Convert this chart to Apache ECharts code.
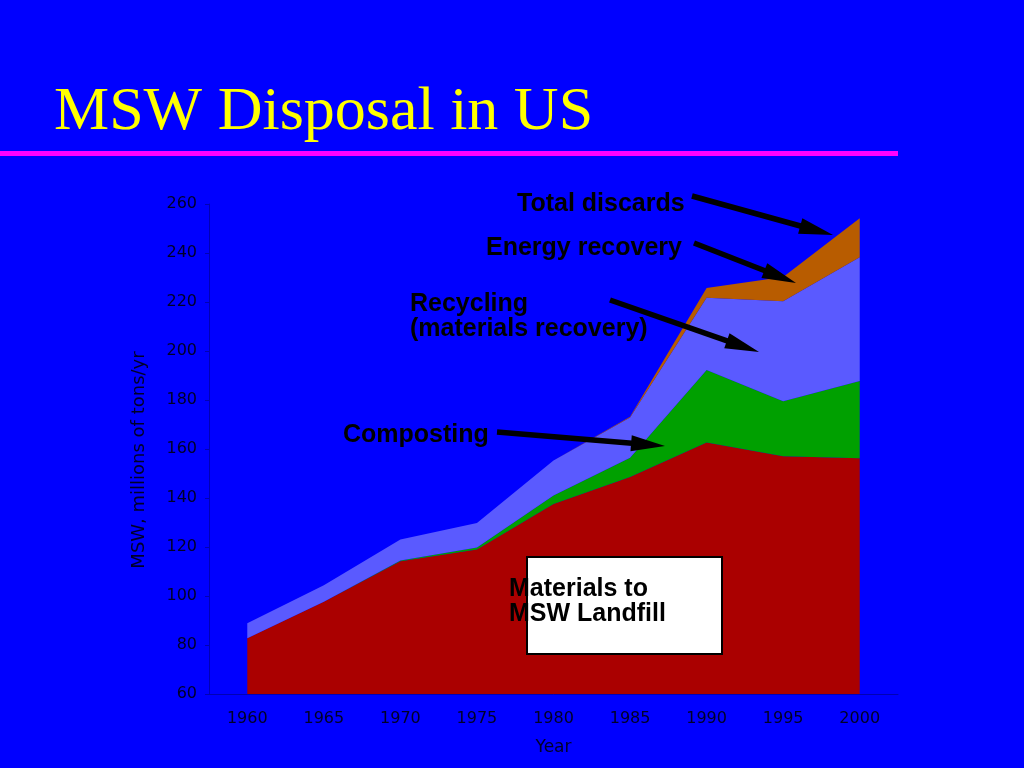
<!DOCTYPE html>
<html>
<head>
<meta charset="utf-8">
<script src="https://cdn.jsdelivr.net/npm/echarts@6/dist/echarts.min.js"></script>
<style>
  html, body { margin: 0; padding: 0; background: #0000ff; }
  #chart { width: 1024px; height: 768px; }
</style>
</head>
<body>
<div id="chart"></div>
<script>
// ---- data (millions of tons/yr) ----
var years = ['1960', '1965', '1970', '1975', '1980', '1985', '1990', '1995', '2000'];
var landfill   = [82.8, 97.7, 114.2, 119.0, 137.6, 148.6, 162.7, 157.0, 156.2];
var composting = [0, 0, 0.3, 0.8, 3.4, 7.8, 29.5, 22.5, 31.6];
var recycling  = [6.1, 6.7, 8.6, 10.0, 14.3, 16.5, 29.5, 40.8, 50.5];
var energy     = [0, 0, 0, 0, 0, 0.3, 4.0, 9.9, 15.9];
var yTicks = { min: 60, max: 260, interval: 20 };

var chart = echarts.init(document.getElementById('chart'));

var labelFont = 'Liberation Sans';
var axisColor = '#000028';
var annoStyle = { fontFamily: labelFont, fontWeight: 'bold', fontSize: 25, fill: '#000000' };

function txt(text, x, y, extra) {
  var st = Object.assign({ text: text, x: x, y: y, verticalAlign: 'middle', align: 'left' }, annoStyle, extra || {});
  return { type: 'text', z: 110, style: st, silent: true };
}
function arrow(x1, y1, x2, y2) {
  var dx = x2 - x1, dy = y2 - y1, L = Math.sqrt(dx * dx + dy * dy);
  var ux = dx / L, uy = dy / L, px = -uy, py = ux;
  var hl = 34, hw = 8;
  var bx = x2 - ux * hl, by = y2 - uy * hl;
  return [
    { type: 'line', z: 105, silent: true,
      shape: { x1: x1, y1: y1, x2: bx + ux * 4, y2: by + uy * 4 },
      style: { stroke: '#000000', lineWidth: 5.5 } },
    { type: 'polygon', z: 106, silent: true,
      shape: { points: [[x2, y2], [bx + px * hw, by + py * hw], [bx - px * hw, by - py * hw]] },
      style: { fill: '#000000' } }
  ];
}

var graphics = [
  { type: 'text', z: 100, silent: true,
    style: { text: 'MSW Disposal in US', x: 54, y: 113, verticalAlign: 'middle',
             fontFamily: 'Liberation Serif', fontSize: 62, fill: '#ffff00' } },
  { type: 'rect', z: 100, silent: true, shape: { x: 0, y: 151, width: 898, height: 5 },
    style: { fill: '#ff00ff' } },
  { type: 'text', z: 100, silent: true, rotation: Math.PI / 2,
    x: 139, y: 460,
    style: { text: 'MSW, millions of tons/yr', x: 0, y: 0, align: 'center', verticalAlign: 'middle',
             fontFamily: 'DejaVu Sans', fontSize: 18, fill: axisColor } },
  txt('Total discards', 517, 204),
  txt('Energy recovery', 486, 248),
  txt('Recycling', 410, 304),
  txt('(materials recovery)', 410, 329),
  txt('Composting', 343, 435),
  { type: 'rect', z: 100, silent: true, shape: { x: 527, y: 557, width: 195, height: 97 },
    style: { fill: '#ffffff', stroke: '#000000', lineWidth: 2 } },
  txt('Materials to', 509, 589),
  txt('MSW Landfill', 509, 614)
];
graphics = graphics.concat(arrow(692, 196, 833, 235));
graphics = graphics.concat(arrow(694, 243, 796, 283));
graphics = graphics.concat(arrow(610, 300, 759, 352));
graphics = graphics.concat(arrow(497, 432, 665, 446));

function areaSeries(name, data, color) {
  return {
    name: name, type: 'line', stack: 'total', data: data,
    symbol: 'none', showSymbol: false,
    lineStyle: { width: 0, opacity: 0 },
    areaStyle: { color: color, opacity: 1 },
    emphasis: { disabled: true },
    silent: true
  };
}

chart.setOption({
  backgroundColor: '#0000ff',
  animation: false,
  grid: { left: 209, right: 126, top: 204, bottom: 74 },
  xAxis: {
    type: 'category', data: years, boundaryGap: true,
    axisLine: { lineStyle: { color: '#0000b4', width: 1 } },
    axisTick: { show: false },
    axisLabel: { color: axisColor, fontFamily: 'DejaVu Sans', fontSize: 16, margin: 17 },
    name: 'Year', nameLocation: 'middle', nameGap: 45,
    nameTextStyle: { color: axisColor, fontFamily: 'DejaVu Sans', fontSize: 17 },
    splitLine: { show: false }
  },
  yAxis: {
    type: 'value', min: yTicks.min, max: yTicks.max, interval: yTicks.interval,
    axisLine: { show: true, lineStyle: { color: '#0000b4', width: 1 } },
    axisTick: { show: true, length: 4, lineStyle: { color: '#0000b4' } },
    axisLabel: { color: axisColor, fontFamily: 'DejaVu Sans', fontSize: 16, margin: 12 },
    splitLine: { show: false }
  },
  series: [
    areaSeries('Landfill', landfill, '#aa0000'),
    areaSeries('Composting', composting, '#00a000'),
    areaSeries('Recycling', recycling, '#5a5aff'),
    areaSeries('Energy recovery', energy, '#b85c00')
  ],
  graphic: graphics
});
</script>
</body>
</html>
